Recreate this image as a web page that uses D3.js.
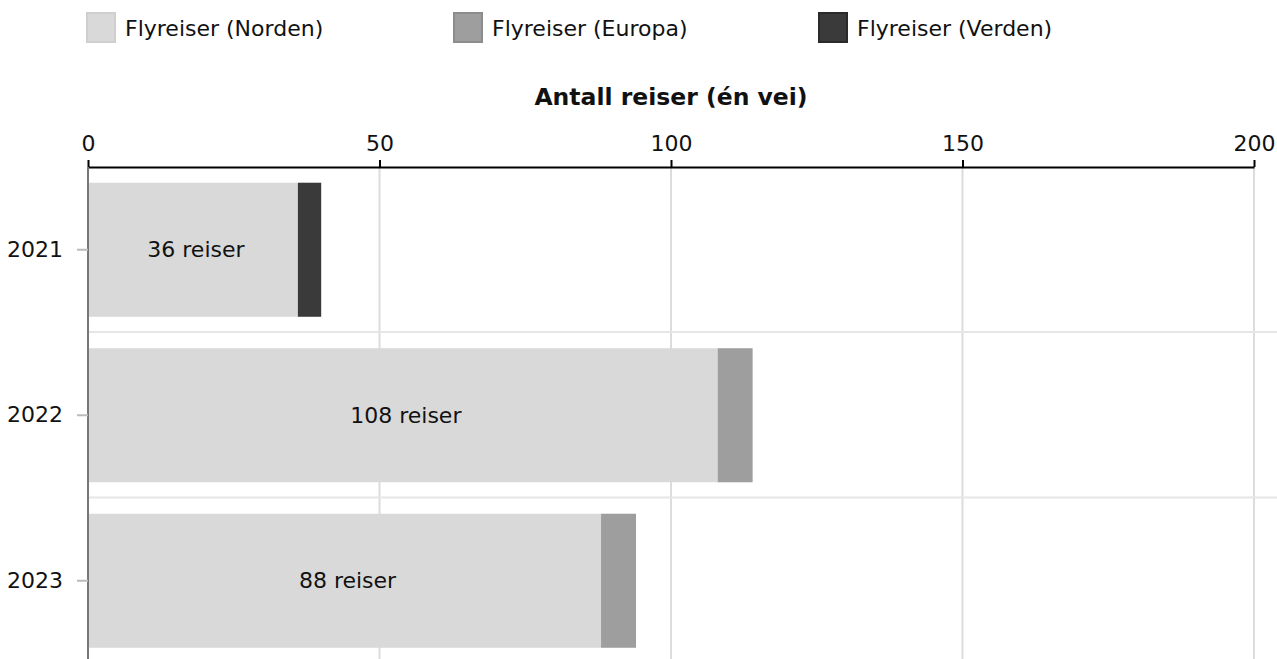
<!DOCTYPE html>
<html>
<head>
<meta charset="utf-8">
<script src="https://cdn.jsdelivr.net/npm/d3@7"></script>
<style>
  html, body { margin: 0; padding: 0; background: #fff; }
  svg { display: block; font-family: "DejaVu Sans", Verdana, sans-serif; }
</style>
</head>
<body>
<svg id="chart" width="1277" height="659"></svg>
<script>
const years = ["2021", "2022", "2023"];
const seriesNames = ["Flyreiser (Norden)", "Flyreiser (Europa)", "Flyreiser (Verden)"];
const norden = [36, 108, 88];
const europa = [0, 6, 6];
const verden = [4, 0, 0];
const xTicks = [0, 50, 100, 150, 200];
const barLabels = ["36 reiser", "108 reiser", "88 reiser"];
const colors = ["#d9d9d9", "#9e9e9e", "#3a3a3a"];
const strokes = ["#cfcfcf", "#8c8c8c", "#2a2a2a"];

const svg = d3.select("#chart");
const W = 1277, H = 659;
const m = { left: 88, right: 23, top: 167 };
const FS = 22;

const x = d3.scaleLinear().domain([0, 200]).range([m.left, W - m.right]);
const y = d3.scaleBand().domain(years).range([m.top, m.top + 3 * 165.5]).paddingInner(0.19).paddingOuter(0.095);

const rows = years.map((yr, i) => ({ year: yr, Norden: norden[i], Europa: europa[i], Verden: verden[i] }));
const stack = d3.stack().keys(["Norden", "Europa", "Verden"])(rows);

// vertical gridlines
svg.append("g").selectAll("line").data(xTicks.filter(d => d > 0)).join("line")
  .attr("x1", d => x(d)).attr("x2", d => x(d))
  .attr("y1", m.top).attr("y2", H)
  .attr("stroke", "#dcdcdc").attr("stroke-width", 2);

// horizontal gridlines between bands
const step = y.step();
svg.append("g").selectAll("line").data(years.slice(1)).join("line")
  .attr("x1", m.left).attr("x2", W)
  .attr("y1", d => y(d) - y.paddingInner() * step / 2 - 0.5)
  .attr("y2", d => y(d) - y.paddingInner() * step / 2 - 0.5)
  .attr("stroke", "#e6e6e6").attr("stroke-width", 2);

// bars
stack.forEach((layer, li) => {
  svg.append("g").selectAll("rect").data(layer.filter(d => d[1] > d[0])).join("rect")
    .attr("x", d => x(d[0]))
    .attr("y", d => y(d.data.year))
    .attr("width", d => x(d[1]) - x(d[0]))
    .attr("height", y.bandwidth())
    .attr("fill", colors[li]);
});

// bar labels
svg.append("g").selectAll("text").data(rows).join("text")
  .attr("x", d => (x(0) + x(d.Norden)) / 2 + 3)
  .attr("y", d => y(d.year) + y.bandwidth() / 2)
  .attr("dy", "0.35em")
  .attr("text-anchor", "middle")
  .attr("font-size", FS)
  .attr("fill", "#111")
  .text((d, i) => barLabels[i]);

// top axis
const xAxis = svg.append("g").attr("transform", `translate(0,${m.top})`)
  .call(d3.axisTop(x).tickValues(xTicks).tickSize(7).tickPadding(9).tickSizeOuter(0));
xAxis.select(".domain").attr("stroke", "#000").attr("stroke-width", 2);
xAxis.selectAll(".tick line").attr("stroke", "#000").attr("stroke-width", 2);
xAxis.selectAll(".tick text").attr("font-size", FS).attr("fill", "#111").attr("font-family", "DejaVu Sans, Verdana, sans-serif");

svg.append("text")
  .attr("x", (x(0) + x(200)) / 2).attr("y", 105)
  .attr("text-anchor", "middle")
  .attr("font-size", 23.5).attr("font-weight", "bold").attr("fill", "#111")
  .text("Antall reiser (én vei)");

// left axis
const yAxis = svg.append("g").attr("transform", `translate(${m.left},0)`)
  .call(d3.axisLeft(y).tickSize(11).tickPadding(14).tickSizeOuter(0));
yAxis.select(".domain").attr("stroke", "#777").attr("stroke-width", 2)
  .attr("d", `M0,${m.top}V${H}`);
yAxis.selectAll(".tick line").attr("stroke", "#bbb").attr("stroke-width", 2);
yAxis.selectAll(".tick text").attr("font-size", FS).attr("fill", "#111").attr("font-family", "DejaVu Sans, Verdana, sans-serif");

// legend
const legendX = [86, 453, 818];
const leg = svg.append("g").selectAll("g").data(seriesNames).join("g")
  .attr("transform", (d, i) => `translate(${legendX[i]},12)`);
leg.append("rect").attr("x", 1).attr("y", 1).attr("width", 28).attr("height", 29)
  .attr("fill", (d, i) => colors[i]).attr("stroke", (d, i) => strokes[i]).attr("stroke-width", 2);
leg.append("text").attr("x", 39).attr("y", 16).attr("dy", "0.35em")
  .attr("font-size", FS).attr("fill", "#111").text(d => d);
</script>
</body>
</html>
